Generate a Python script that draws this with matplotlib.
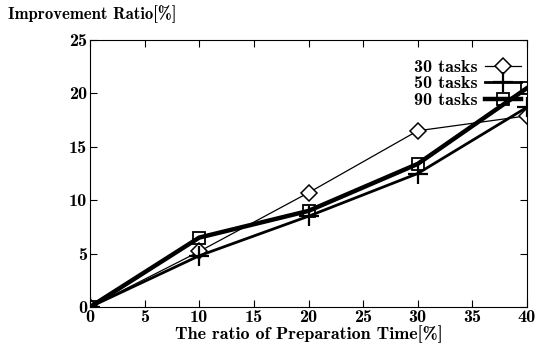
import matplotlib
matplotlib.use("Agg")
import matplotlib.pyplot as plt

# Data
prep_ratio = [0, 10, 20, 30, 40]
tasks_30 = [0, 5.2, 10.7, 16.5, 17.9]
tasks_50 = [0, 4.8, 8.5, 12.5, 18.7]
tasks_90 = [0, 6.5, 9.0, 13.4, 20.5]

plt.rcParams["font.family"] = ["cmb10", "DejaVu Serif"]
plt.rcParams["font.size"] = 12

fig = plt.figure(figsize=(5.38, 3.54), dpi=100)
ax = fig.add_axes([90 / 538, 1 - 307 / 354, 437 / 538, 267 / 354])

ax.plot(prep_ratio, tasks_30, color="black", lw=0.9, marker="D",
        ms=8, mfc="white", mec="black", mew=1.1, label="30 tasks")
ax.plot(prep_ratio, tasks_50, color="black", lw=2.0, marker="+",
        ms=14, mec="black", mew=1.6, label="50 tasks")
ax.plot(prep_ratio, tasks_90, color="black", lw=3.2, marker="s",
        ms=9, mfc="none", mec="black", mew=1.3, label="90 tasks")

ax.set_xlim(0, 40)
ax.set_ylim(0, 25)
ax.set_xticks(range(0, 41, 5))
ax.set_yticks(range(0, 26, 5))
ax.tick_params(direction="in", top=True, right=True, length=5,
               labelsize=13, pad=2)

ax.set_xlabel("The ratio of Preparation Time[%]", fontsize=13, labelpad=0)
fig.text(8 / 538, 1 - 14 / 354, "Improvement Ratio[%]", fontsize=12,
         va="center", ha="left")

ax.legend(loc="upper right", frameon=False, markerfirst=False,
          handlelength=2.0, handletextpad=0.4, labelspacing=0.05,
          borderaxespad=0.3, fontsize=13, bbox_to_anchor=(1.015, 0.975))

fig.savefig("out.png", dpi=100)
